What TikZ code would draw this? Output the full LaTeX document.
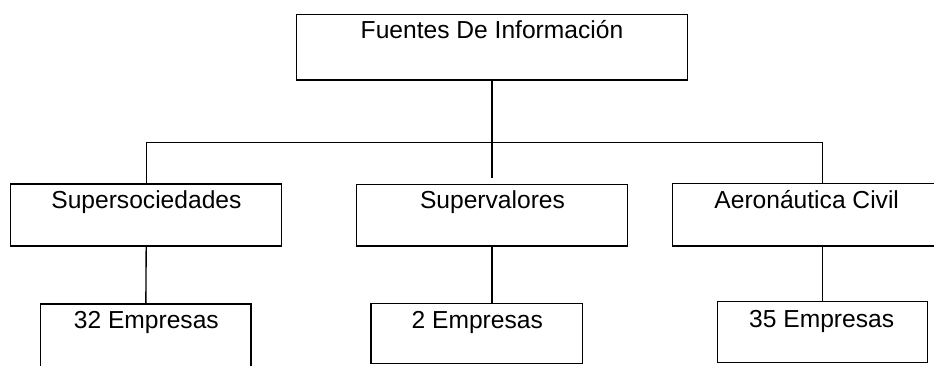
\documentclass[tikz,border=0pt]{standalone}
\usepackage{fontspec}
\setmainfont{Liberation Sans}
\begin{document}
\begin{tikzpicture}[x=1pt,y=-1pt,line width=1.35pt,
  box/.style={draw=black, rectangle, inner sep=0pt},
  lbl/.style={anchor=base, inner sep=0pt, font=\fontsize{24.6}{29}\selectfont}]
\useasboundingbox (0,0) rectangle (934,365);
\clip (0,0) rectangle (934,365);
% boxes
\node[box, minimum width=390.6pt, minimum height=65.3pt] (top) at (492,47.35) {};
\node[box, minimum width=271pt, minimum height=62pt] (sup1) at (146.2,215) {};
\node[box, minimum width=270.6pt, minimum height=61.7pt] (sup2) at (492,215.15) {};
\node[box, minimum width=270pt, minimum height=62.7pt] (sup3) at (807.3,214.65) {};
\node[box, minimum width=210.3pt, minimum height=64pt] (emp1) at (145.85,336) {};
\node[box, minimum width=211.3pt, minimum height=60pt] (emp2) at (476.65,333.3) {};
\node[box, minimum width=210pt, minimum height=60.6pt] (emp3) at (822.7,332) {};
% labels
\node[lbl] (topt) at (492,38.3) {Fuentes De Información};
\node[lbl] (sup1t) at (146.4,208.3) {Supersociedades};
\node[lbl] (sup2t) at (492.5,208.3) {Supervalores};
\node[lbl] (sup3t) at (806.7,208.3) {Aeronáutica Civil};
\node[lbl] (emp1t) at (146.3,328.3) {32 Empresas};
\node[lbl] (emp2t) at (477.3,328.3) {2 Empresas};
\node[lbl] (emp3t) at (821.7,327.3) {35 Empresas};
% connectors
\coordinate (J) at (492,142.7);
\coordinate (Jm) at (492,178);
\draw (top.south) -- (J) -- (Jm);
\draw (sup1.north) |- (J) -| (emp3.north |- sup3.north);
\draw (sup1.south) -- (emp1.north);
\draw (sup2.south) -- (sup2.south |- emp2.north);
\draw (emp3.north |- sup3.south) -- (emp3.north);
\end{tikzpicture}
\end{document}
